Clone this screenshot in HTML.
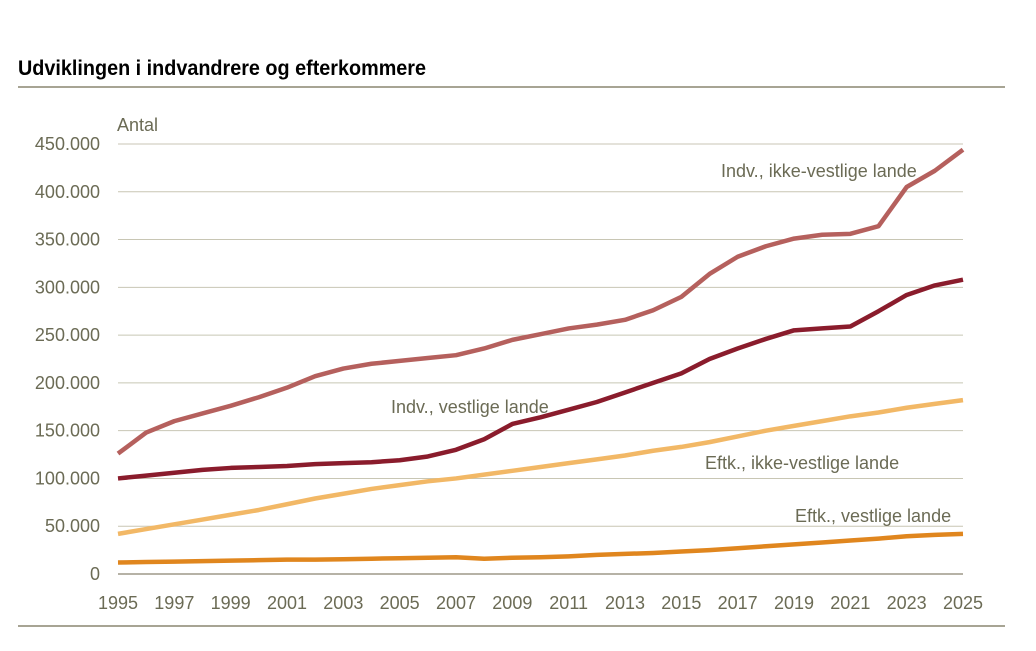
<!DOCTYPE html>
<html><head><meta charset="utf-8"><style>
body{margin:0;background:#fff;width:1036px;height:646px;overflow:hidden;font-family:"Liberation Sans",Arial,sans-serif}
</style></head><body>
<svg width="1036" height="646" xmlns="http://www.w3.org/2000/svg">
<text x="18" y="75" font-size="21" font-weight="bold" fill="#000" textLength="408" lengthAdjust="spacingAndGlyphs">Udviklingen i indvandrere og efterkommere</text>
<line x1="18" y1="87" x2="1005" y2="87" stroke="#8a8570" stroke-width="1.5"/>
<line x1="18" y1="626" x2="1005" y2="626" stroke="#8a8570" stroke-width="1.5"/>
<text x="117" y="131" font-size="18" fill="#6b6b55">Antal</text>
<g id="grid"></g><g id="lines"></g><g id="labels"></g>
</svg>
<script>
const years=[];for(let y=1995;y<=2025;y++)years.push(y);
const indvIkke=[126,148,160,168,176,185,195,207,215,220,223,226,229,236,245,251,257,261,266,276,290,314,332,343,351,355,356,364,405,422,444];
const indvVest=[100,103,106,109,111,112,113,115,116,117,119,123,130,141,157,164,172,180,190,200,210,225,236,246,255,257,259,275,292,302,308];
const eftkIkke=[42,47,52,57,62,67,73,79,84,89,93,97,100,104,108,112,116,120,124,129,133,138,144,150,155,160,165,169,174,178,182];
const eftkVest=[12,12.5,13,13.5,14,14.5,15,15,15.5,16,16.5,17,17.5,16,17,17.5,18.5,20,21,22,23.5,25,27,29,31,33,35,37,39.5,41,42];
const yTicks=[0,50,100,150,200,250,300,350,400,450];
const yTickLabels=["0","50.000","100.000","150.000","200.000","250.000","300.000","350.000","400.000","450.000"];
const xTickYears=[1995,1997,1999,2001,2003,2005,2007,2009,2011,2013,2015,2017,2019,2021,2023,2025];
const NS="http://www.w3.org/2000/svg";
const X=y=>118+(y-1995)*(963-118)/30;
const Y=v=>574-v*(574-144)/450;
function mk(t,a,p){const e=document.createElementNS(NS,t);for(const k in a)e.setAttribute(k,a[k]);p.appendChild(e);return e;}
const grid=document.getElementById('grid'),lines=document.getElementById('lines'),labels=document.getElementById('labels');
yTicks.forEach((v,i)=>{
 if(v>0){const l=mk('line',{x1:118,x2:963,y1:Y(v),y2:Y(v),stroke:'#c8c6b4','stroke-width':1},grid);
 
 }
 const t=mk('text',{x:100,y:Y(v)+6,'font-size':18,fill:'#6b6b55','text-anchor':'end'},grid);t.textContent=yTickLabels[i];
 
 
});
const ax=mk('line',{x1:118,x2:963,y1:574,y2:574,stroke:'#8a8570','stroke-width':1.2},grid);


xTickYears.forEach(y=>{
 const t=mk('text',{x:X(y),y:609,'font-size':18,fill:'#6b6b55','text-anchor':'middle'},grid);t.textContent=y;
 
 
});
const series=[[eftkVest,'#e0861e','eftk-vestlige-line'],[eftkIkke,'#f2b866','eftk-ikke-vestlige-line'],[indvVest,'#8a1c2c','indv-vestlige-line'],[indvIkke,'#b5605d','indv-ikke-vestlige-line']];
series.forEach(([d,c,n])=>{
 const p=mk('polyline',{points:d.map((v,i)=>X(years[i])+','+Y(v)).join(' '),fill:'none',stroke:c,'stroke-width':4.5,'stroke-linejoin':'round'},lines);
 
 
});
const labs=[["Indv., ikke-vestlige lande",721,177],["Indv., vestlige lande",391,413],["Eftk., ikke-vestlige lande",705,469],["Eftk., vestlige lande",795,522]];
labs.forEach(([s,x,y])=>{const t=mk('text',{x:x,y:y,'font-size':18,fill:'#6b6b55'},labels);t.textContent=s;
 
 });
</script>
</body></html>
